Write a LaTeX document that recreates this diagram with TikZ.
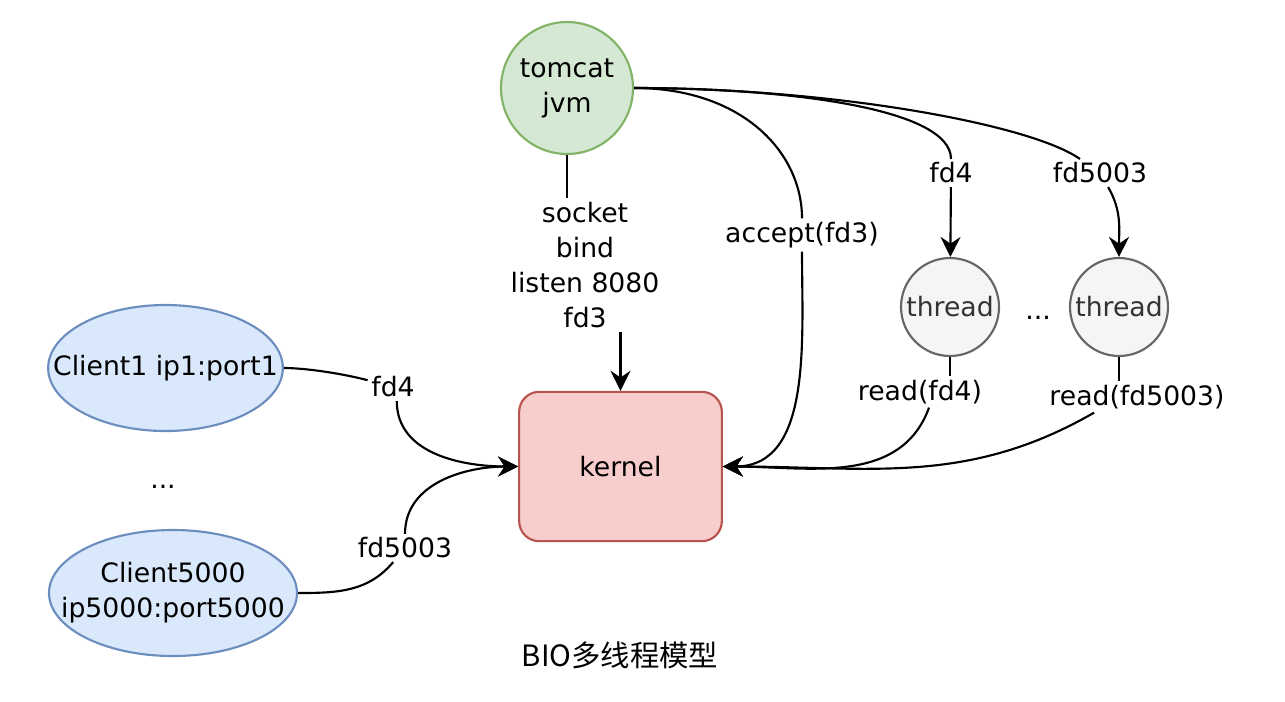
\documentclass[tikz,border=0pt]{standalone}
\usepackage{fontspec}
\setmainfont{DejaVu Sans}
\newfontfamily\cjkfont{Noto Sans CJK SC}
\usetikzlibrary{arrows.meta,positioning,shapes.geometric}

\definecolor{jvmfill}{HTML}{D5E8D4}
\definecolor{jvmline}{HTML}{82B366}
\definecolor{kernfill}{HTML}{F8CECC}
\definecolor{kernline}{HTML}{B85450}
\definecolor{clifill}{HTML}{DAE8FC}
\definecolor{cliline}{HTML}{6C8EBF}
\definecolor{thrfill}{HTML}{F5F5F5}
\definecolor{thrline}{HTML}{666666}
\definecolor{thrtext}{HTML}{333333}

\begin{document}
\begin{tikzpicture}[%
    x=0.75pt,y=0.75pt,
    >={Stealth[length=15pt,width=15pt,inset=5pt]},
    line width=1.6pt,
    on grid,
    every node/.style={font=\fontsize{20}{26.25}\selectfont,align=center},
    jvm/.style={circle,draw=jvmline,fill=jvmfill,minimum size=99pt,inner sep=0pt},
    kern/.style={rectangle,rounded corners=15pt,draw=kernline,fill=kernfill,
      minimum width=152pt,minimum height=112pt},
    client/.style={ellipse,draw=cliline,fill=clifill,minimum height=94.5pt,inner sep=0pt},
    thread/.style={circle,draw=thrline,fill=thrfill,text=thrtext,minimum size=73.5pt,inner sep=0pt},
    lbl/.style={inner sep=2pt}
  ]
  \useasboundingbox (0,0) rectangle (1285,-701);

  % shapes
  \node[jvm] (jvm) at (567,-88) {tomcat\\jvm};
  \node[kern] (kern) at (620.5,-466.5) {kernel};
  \node[client,minimum width=176pt,label=center:{Client1 ip1:port1}] (c1) at (165.5,-368) {};
  \node[client,minimum width=186pt,label=center:{Client5000\\ip5000:port5000}] (c5) at (173,-593) {};
  \node (dotsA) at (163,-487) {...};
  \node[thread] (t1) at (950,-307) {thread};
  \node[thread] (t2) [right=126.75pt of t1] {thread};
  \node (dotsB) at (1038,-318) {...};

  % labels
  \node[lbl] (sockets) at (585,-265) {socket\\bind\\listen 8080\\fd3};
  \node[lbl] (acc) at (802,-235) {accept(fd3)};
  \node[lbl] (fdA) at (951,-173) {fd4};
  \node[lbl] (fdB) at (1100,-173) {fd5003};
  \node[lbl] (rdA) at (920,-392) {read(fd4)};
  \node[lbl] (rdB) at (1137,-397) {read(fd5003)};
  \node[lbl] (cA) at (393,-387) {fd4};
  \node[lbl] (cB) at (405,-548) {fd5003};

  % connectors
  \draw (jvm.south) -- (jvm.south |- sockets.north);
  \draw[->] (sockets.south -| kern.north) -- (kern.north);

  \draw (jvm.east) to[out=0,in=90,out looseness=1.3,in looseness=0.8] (acc);
  \draw[->] (acc) to[out=-90,in=0] (kern.east);
  \draw (jvm.east) to[out=0,in=90,out looseness=1.2,in looseness=0.4] (fdA);
  \draw[->] (fdA) -- (t1);
  \draw (jvm.east) to[out=0,in=145,out looseness=1.1,in looseness=0.35] (fdB);
  \draw[->] (fdB) to[out=-60,in=90] (t2);

  \draw (t1.south) -- (t1.south |- rdA.north);
  \draw[->] (rdA.-60) to[out=-110,in=0] (kern.east);
  \draw (t2.south) -- (t2.south |- rdB.north);
  \draw[->] (rdB.-160) to[out=-150,in=0] (kern.east);

  \draw (c1.east) to[out=0,in=165,looseness=0.7] (cA);
  \draw[->] (cA.-75) to[out=-90,in=180] (kern.west);
  \draw (c5.east) to[out=0,in=-130] (cB);
  \draw[->] (cB) to[out=90,in=180] (kern.west);

  \node[font=\fontsize{22}{26}\selectfont] (title) at (620,-655) {\cjkfont BIO多线程模型};
\end{tikzpicture}
\end{document}
